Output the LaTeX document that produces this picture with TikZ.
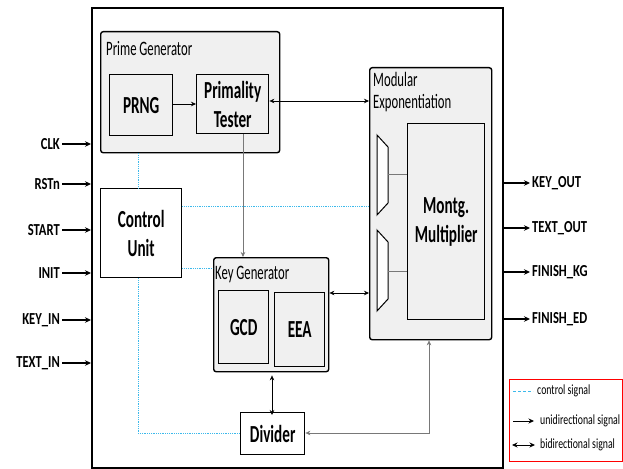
\documentclass[tikz,border=0pt]{standalone}
\usepackage{fontspec}
\setmainfont{Carlito}
\newfontfamily\condf[FakeStretch=0.62]{Carlito}
\newfontfamily\semif[FakeStretch=0.75]{Carlito}
\newfontfamily\legf[FakeStretch=0.70]{Carlito}
\usetikzlibrary{arrows.meta}
\definecolor{ctrlc}{RGB}{60,185,235}
\definecolor{grpc}{RGB}{240,240,240}
\definecolor{linec}{RGB}{120,120,120}
\begin{document}
\begin{tikzpicture}[x=1pt,y=-1pt,
  blk/.style={draw, line width=1.4pt, anchor=north west, inner sep=0pt, align=center,
    font=\condf\fontsize{24.5}{29}\selectfont\bfseries},
  grpbox/.style={draw, fill=grpc, rounded corners=2.5pt, line width=1.4pt, anchor=north west, inner sep=0pt},
  gtitle/.style={anchor=base west, inner sep=0pt, align=left, font=\condf\fontsize{20.5}{22}\selectfont},
  tip/.style={-{Stealth[length=5pt,width=4.5pt]}},
  ln/.style={line width=0.6pt, tip},
  bi/.style={line width=0.6pt, {Stealth[length=5pt,width=4.5pt]}-{Stealth[length=5pt,width=4.5pt]}},
  ctl/.style={draw=ctrlc, densely dotted, line width=0.8pt},
  pin/.style={line width=1.1pt, -{Stealth[length=6pt,width=5.5pt]}},
  pinlab/.style={inner sep=0pt, font=\semif\fontsize{16.8}{18}\selectfont\bfseries},
  mux/.style={draw, line width=1pt, fill=white}
]
\useasboundingbox (0,0) rectangle (623,468);

% main frame
\node[draw, line width=1.6pt, anchor=north west, minimum width=411pt, minimum height=460pt, inner sep=0pt] (main) at (91,7) {};

% Prime generator
\node[grpbox, minimum width=179pt, minimum height=121pt] (pg) at (100,31) {};
\node[gtitle] (pgt) at (106,56) {Prime Generator};
\node[blk, minimum width=63pt, minimum height=61pt] (prng) at (109,74) {PRNG};
\node[blk, minimum width=72pt, minimum height=59pt] (pt) at (196,74) {Primality\\Tester};

% Modular exponentiation
\node[grpbox, minimum width=122pt, minimum height=272pt] (me) at (369,67) {};
\node[gtitle] (met) at (373,109) {Modular\\Exponentiation};
\node[blk, minimum width=77pt, minimum height=196pt] (mm) at (407,123) {Montg.\\Multiplier};
\draw[mux] (377,135) -- (388,147) -- (388,203) -- (377,215) -- cycle;
\draw[mux] (377,230) -- (388,242) -- (388,299) -- (377,311) -- cycle;
\coordinate (m1) at (388,174);
\coordinate (m2) at (388,271);
\draw[linec, line width=0.7pt] (m1) -- (m1 -| mm.west);
\draw[linec, line width=0.7pt] (m2) -- (m2 -| mm.west);

% Control unit
\node[blk, minimum width=81pt, minimum height=89pt] (cu) at (100,188) {Control\\Unit};

% Key generator
\node[grpbox, minimum width=115pt, minimum height=114pt] (kg) at (213,257) {};
\node[gtitle] (kgt) at (215,279) {Key Generator};
\node[blk, minimum width=50pt, minimum height=73pt] (gcd) at (218,290) {GCD};
\node[blk, minimum width=50pt, minimum height=74pt] (eea) at (274,292) {EEA};

% Divider
\node[blk, minimum width=64pt, minimum height=42pt] (div) at (240,412) {Divider};

% data connectors
\draw[ln] (prng.east |- 0,104) -- (pt.west |- 0,104);
\draw[bi] (pt.east |- 0,101) -- (me.west |- 0,101);
\draw[ln, linec] (pt.south -| 243,0) -- (kg.north -| 243,0);
\draw[bi] (kg.east |- 0,293) -- (me.west |- 0,293);
\draw[bi] (kg.south -| 272,0) ++(0,3) -- ([yshift=-3pt]div.north -| 272,0);
\coordinate (dc) at (429,433);
\draw[bi, linec] (me.south -| dc) -- (dc) -- (div.east |- dc);

% control signals
\draw[ctl] (pg.south -| 138,0) -- (cu.north -| 138,0);
\draw[ctl] (cu.east |- 0,206) -- (me.west |- 0,206);
\draw[ctl] (cu.east |- 0,268) -- (kg.west |- 0,268);
\coordinate (cc) at (138,433);
\draw[ctl] (cu.south -| cc) -- (cc) -- (div.west |- cc);

% inputs
\foreach \nm/\yy/\lab in {iclk/144/CLK, irst/184/RSTn, istart/230/START, iinit/273/INIT, ikey/320/KEY\_IN, itext/363/TEXT\_IN}{
  \coordinate (\nm) at (62,\yy);
  \node[pinlab, anchor=east] (\nm l) at (60,\yy) {\lab};
  \draw[pin] (\nm) -- (main.west |- \nm);
}
% outputs
\foreach \nm/\yy/\lab in {okey/183/KEY\_OUT, otext/228/TEXT\_OUT, okg/272/FINISH\_KG, oed/319/FINISH\_ED}{
  \coordinate (\nm) at (530,\yy);
  \node[pinlab, anchor=west] (\nm l) at (532,\yy) {\lab};
  \draw[pin] (main.east |- \nm) -- (\nm);
}

% legend
\node[draw=red, line width=1pt, anchor=north west, minimum width=113pt, minimum height=82pt, inner sep=0pt] (leg) at (509,379) {};
\coordinate (l1a) at (513,391); \coordinate (l1b) at (533,391);
\coordinate (l2a) at (513,421); \coordinate (l2b) at (534,421);
\coordinate (l3a) at (512,445); \coordinate (l3b) at (535,445);
\draw[draw=ctrlc, dashed, dash pattern=on 3pt off 2pt, line width=0.8pt] (l1a) -- (l1b);
\draw[line width=0.8pt, -{Stealth[length=5.5pt,width=5pt]}] (l2a) -- (l2b);
\draw[line width=0.8pt, {Stealth[length=5.5pt,width=5pt]}-{Stealth[length=5.5pt,width=5pt]}] (l3a) -- (l3b);
\node[anchor=west, inner sep=0pt, font=\legf\fontsize{14}{15}\selectfont] (lt1) at (537,391) {control signal};
\node[anchor=west, inner sep=0pt, font=\legf\fontsize{14}{15}\selectfont] (lt2) at (540,421) {unidirectional signal};
\node[anchor=west, inner sep=0pt, font=\legf\fontsize{14}{15}\selectfont] (lt3) at (540,445) {bidirectional signal};
\end{tikzpicture}
\end{document}
